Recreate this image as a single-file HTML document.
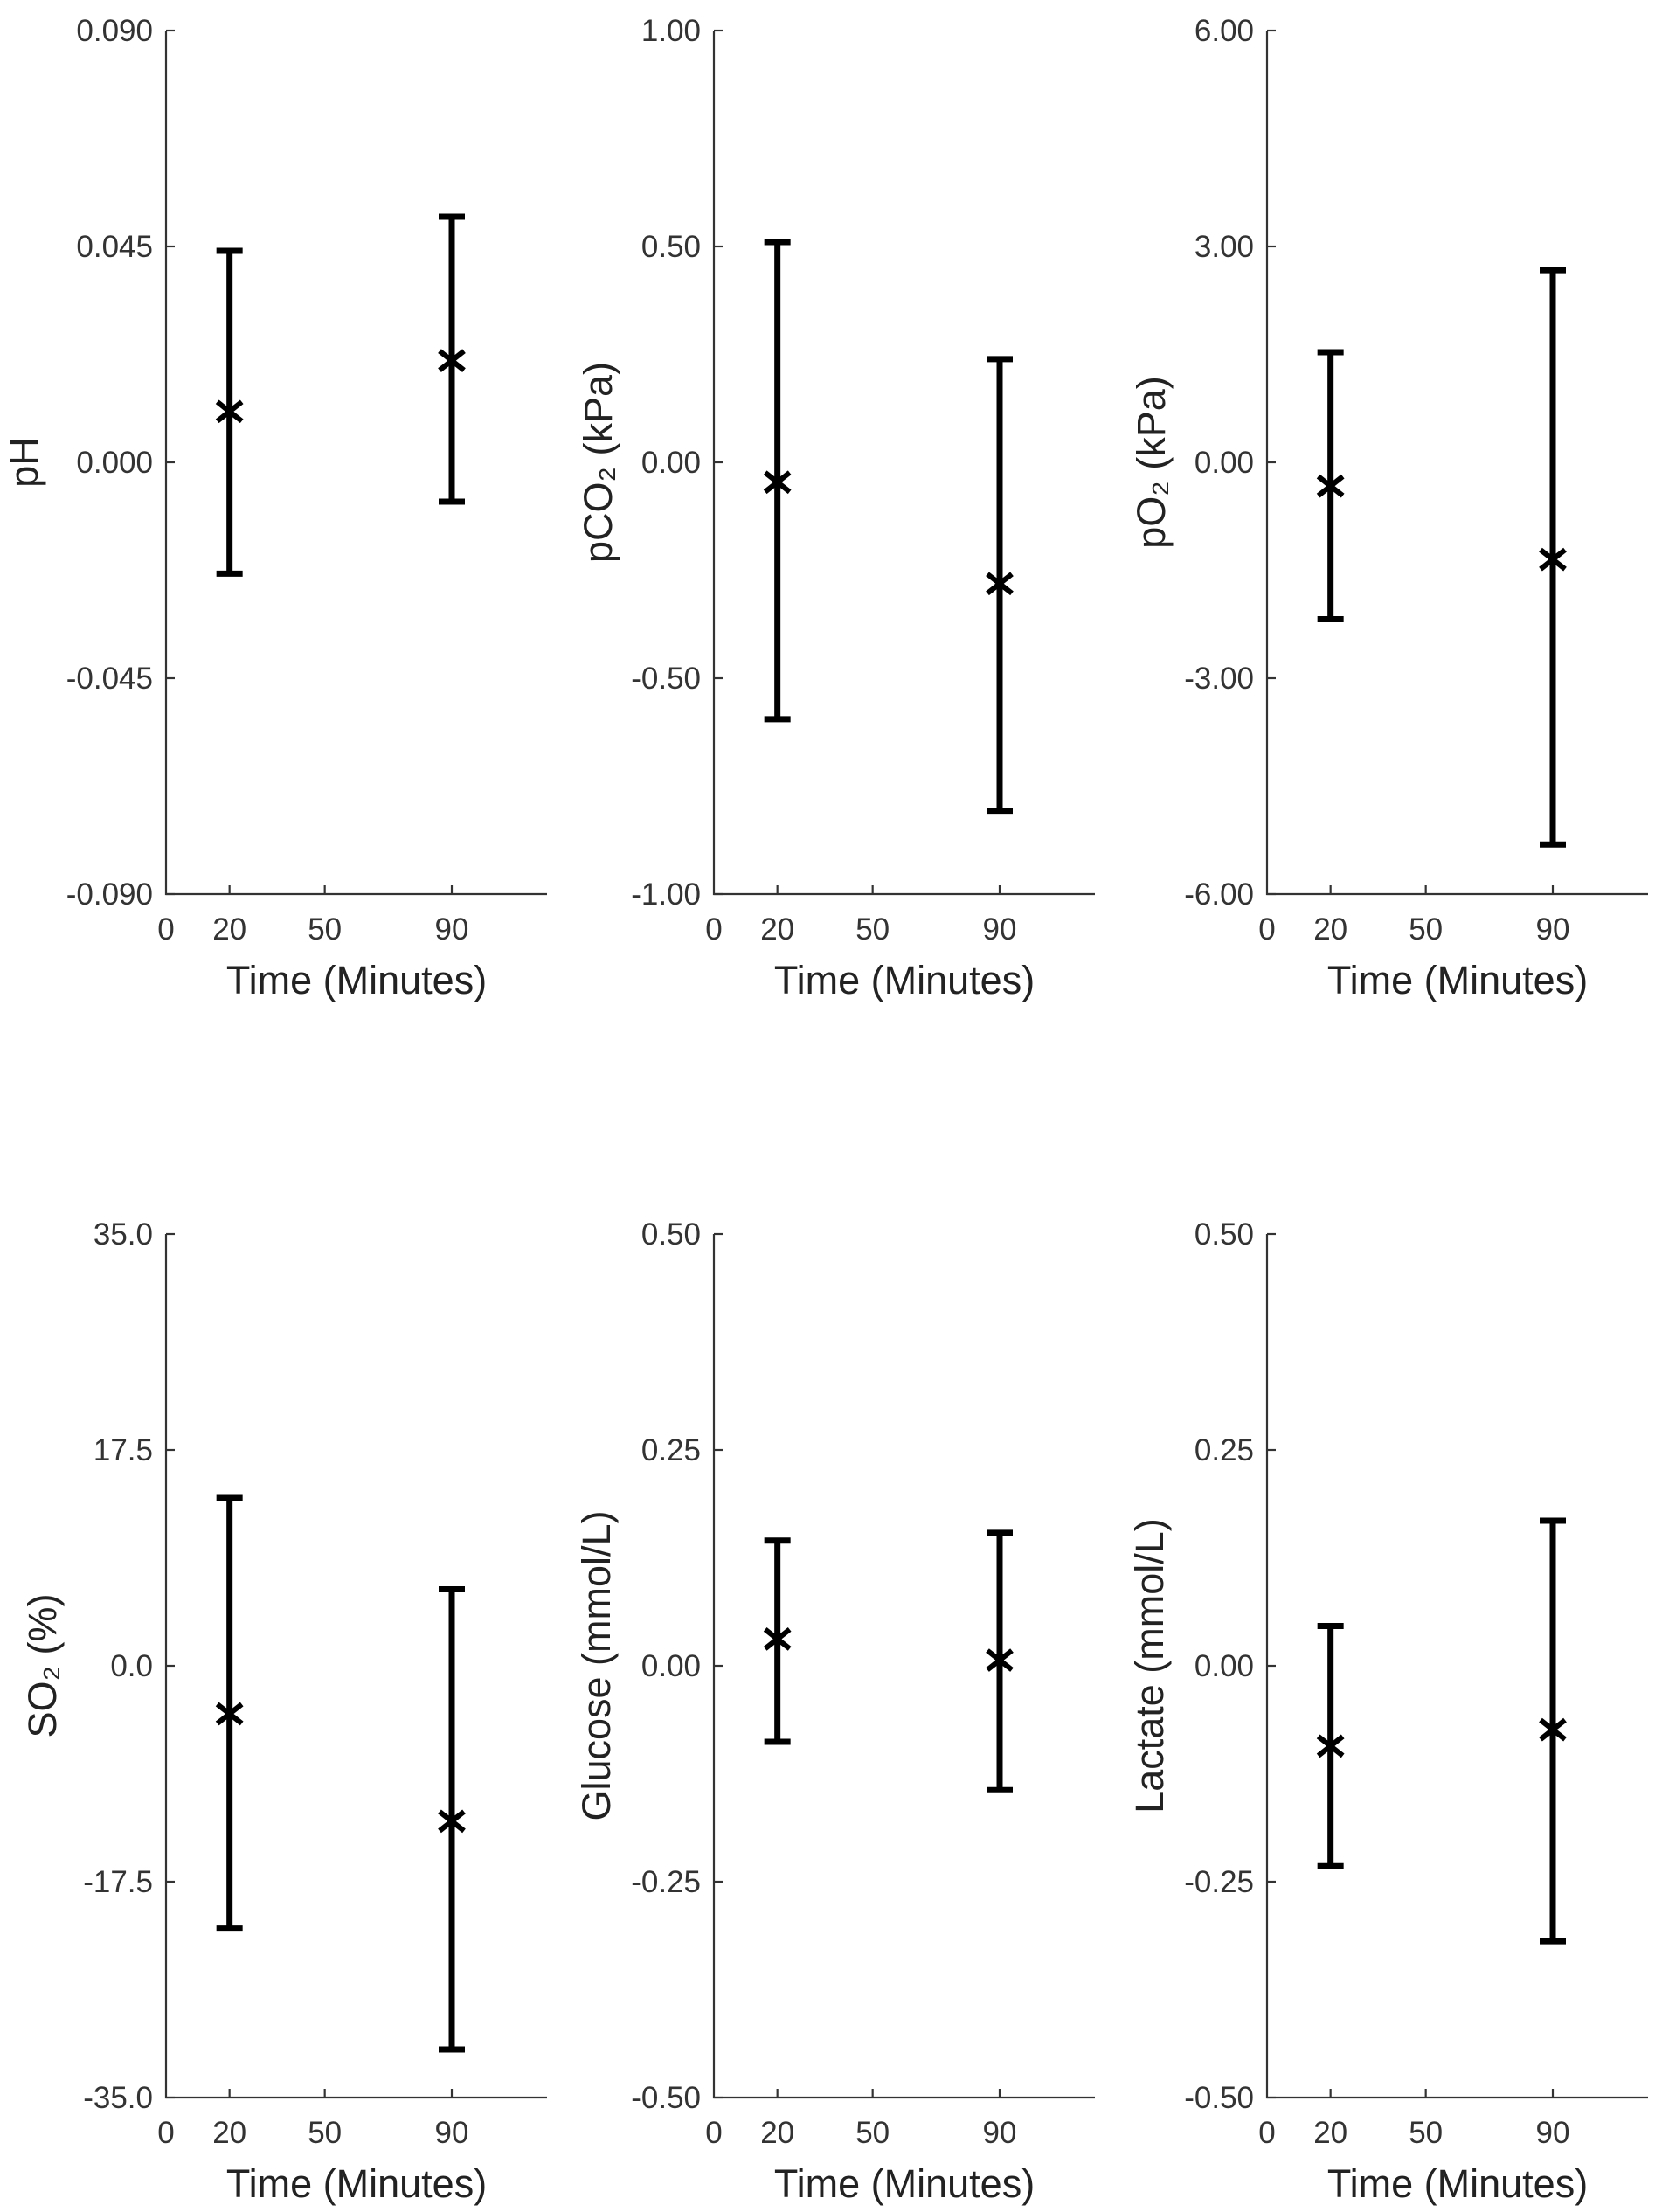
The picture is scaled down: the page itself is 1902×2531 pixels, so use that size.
<!DOCTYPE html>
<html><head><meta charset="utf-8"><style>
html,body{margin:0;padding:0;background:#fff}
svg{display:block}
text{font-family:"Liberation Sans",Arial,sans-serif}
</style></head><body>
<svg id="fig" width="1902" height="2531" viewBox="0 0 1902 2531" xmlns="http://www.w3.org/2000/svg"></svg>
<script>
// data arrays
const panelNames = ["ph","pco2","po2","so2","glucose","lactate"];
const yLabels = ["pH","pCO₂ (kPa)","pO₂ (kPa)","SO₂ (%)","Glucose (mmol/L)","Lactate (mmol/L)"];
const yTickLabels = [
  ["-0.090","-0.045","0.000","0.045","0.090"],
  ["-1.00","-0.50","0.00","0.50","1.00"],
  ["-6.00","-3.00","0.00","3.00","6.00"],
  ["-35.0","-17.5","0.0","17.5","35.0"],
  ["-0.50","-0.25","0.00","0.25","0.50"],
  ["-0.50","-0.25","0.00","0.25","0.50"]
];
const yTickValues = [
  [-0.09,-0.045,0,0.045,0.09],
  [-1,-0.5,0,0.5,1],
  [-6,-3,0,3,6],
  [-35,-17.5,0,17.5,35],
  [-0.5,-0.25,0,0.25,0.5],
  [-0.5,-0.25,0,0.25,0.5]
];
const times = [20, 90];
const xTickValues = [20, 50, 90];
const xTickLabels = ["20","50","90"];
const means = [
  [0.0106, 0.0212],
  [-0.046, -0.281],
  [-0.33, -1.35],
  [-3.9, -12.6],
  [0.031, 0.0065],
  [-0.093, -0.074]
];
const upper = [
  [0.0441, 0.0512],
  [0.51, 0.239],
  [1.53, 2.67],
  [13.6, 6.2],
  [0.145, 0.154],
  [0.046, 0.168]
];
const lower = [
  [-0.0232, -0.0082],
  [-0.595, -0.807],
  [-2.18, -5.31],
  [-21.3, -31.1],
  [-0.088, -0.144],
  [-0.232, -0.319]
];

const NS = "http://www.w3.org/2000/svg";
const svg = document.getElementById('fig');
function mk(tag, attrs, parent){
  const e = document.createElementNS(NS, tag);
  for (const k in attrs) e.setAttribute(k, attrs[k]);
  (parent||svg).appendChild(e);
  return e;
}
const colX = [190, 817, 1450];
const rowTop = [35, 1412];
const W = 436, H = 988;
const xMax = 120;
const yLabelOffset = [163, 133, 133, 142, 135, 135];

for (let p = 0; p < 6; p++) {
  const left = colX[p % 3], top = rowTop[Math.floor(p / 3)], bottom = top + H;
  const yv = yTickValues[p];
  const ymin = yv[0], ymax = yv[yv.length - 1];
  const sx = v => left + v / xMax * W;
  const sy = v => bottom - (v - ymin) / (ymax - ymin) * H;
  const g = mk('g', {});
  
  

  const ax = mk('path', {d:`M${left} ${top} V${bottom} H${left+W}`, stroke:'#333', 'stroke-width':2.2, fill:'none'}, g);
  
  

  for (let i = 0; i < yv.length; i++) {
    const y = sy(yv[i]);
    const t = mk('line', {x1:left, x2:left+10, y1:y, y2:y, stroke:'#333', 'stroke-width':2.2}, g);
    
    
    const tl = mk('text', {x:left-15, y:y+12, 'text-anchor':'end', 'font-size':35, fill:'#333'}, g);
    tl.textContent = yTickLabels[p][i];
    
    
  }
  const z = mk('text', {x:left, y:bottom+52, 'text-anchor':'middle', 'font-size':35, fill:'#333'}, g);
  z.textContent = "0";
  
  
  for (let i = 0; i < xTickValues.length; i++) {
    const x = sx(xTickValues[i]);
    const t = mk('line', {x1:x, x2:x, y1:bottom, y2:bottom-10, stroke:'#333', 'stroke-width':2.2}, g);
    
    
    const tl = mk('text', {x:x, y:bottom+52, 'text-anchor':'middle', 'font-size':35, fill:'#333'}, g);
    tl.textContent = xTickLabels[i];
    
    
  }
  const xt = mk('text', {x:left+W/2, y:bottom+114, 'text-anchor':'middle', 'font-size':45, fill:'#222'}, g);
  xt.textContent = "Time (Minutes)";
  
  
  const lx = left - yLabelOffset[p], ly = top + H / 2;
  const yt = mk('text', {x:lx, y:ly, 'text-anchor':'middle', 'font-size':45, fill:'#222', transform:`rotate(-90 ${lx} ${ly}) translate(0 16)`}, g);
  yt.textContent = yLabels[p];
  
  

  for (let i = 0; i < times.length; i++) {
    const x = sx(times[i]);
    const yu = sy(upper[p][i]), yl = sy(lower[p][i]), ym = sy(means[p][i]);
    const eb = mk('path', {d:`M${x} ${yu} V${yl} M${x-15} ${yu} H${x+15} M${x-15} ${yl} H${x+15}`, stroke:'#000', 'stroke-width':7, fill:'none'}, g);
    
    
    const m = mk('path', {d:`M${x-14} ${ym-11} L${x+14} ${ym+11} M${x-14} ${ym+11} L${x+14} ${ym-11}`, stroke:'#000', 'stroke-width':6, fill:'none'}, g);
    
    
  }
}
</script>
</body></html>
